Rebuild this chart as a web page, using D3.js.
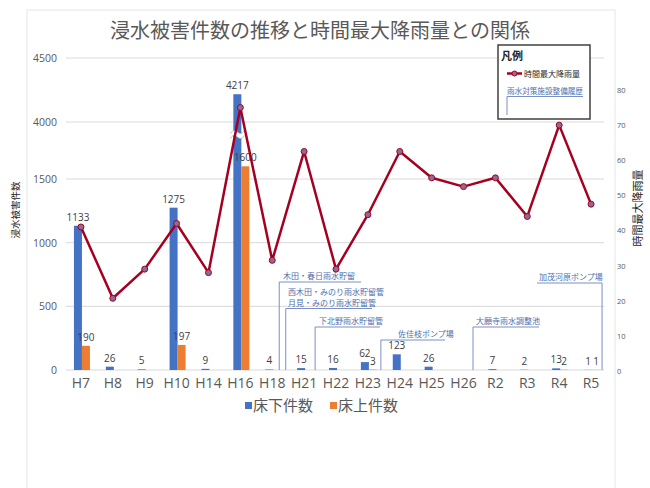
<!DOCTYPE html>
<html><head><meta charset="utf-8">
<script src="https://cdn.jsdelivr.net/npm/d3@7"></script>
<style>body{margin:0;background:#fff;}svg{display:block;font-family:"Noto Sans CJK JP","Noto Sans",sans-serif;}</style>
</head><body>
<svg id="c" width="650" height="488"></svg>
<script>
const categories = ["H7","H8","H9","H10","H14","H16","H18","H21","H22","H23","H24","H25","H26","R2","R3","R4","R5"];
const floorBelow = [1133,26,5,1275,9,4217,4,15,16,62,123,26,0,7,2,13,1];
const floorAbove = [190,0,0,197,0,1600,0,0,0,3,0,0,0,0,0,2,1];
const maxRain = [41,20.7,29,42,28,75,31.5,62.5,29,44.5,62.5,55,52.5,55,44,70,47.5];
const leftTicks = [0,500,1000,1500,4000,4500];
const rightTicks = [0,10,20,30,40,50,60,70,80];
const seriesNames = ["床下件数","床上件数"];
const lineName = "時間最大降雨量";
const facilityHistory = [
  {lines:["木田・春日雨水貯留"], after:"H18"},
  {lines:["西木田・みのり雨水貯留管","月見・みのり雨水貯留管"], after:"H18"},
  {lines:["下北野雨水貯留管"], after:"H21"},
  {lines:["佐佳枝ポンプ場"], after:"H23"},
  {lines:["大願寺雨水調整池"], after:"H26"},
  {lines:["加茂河原ポンプ場"], after:"R5"}
];

const svg = d3.select("#c");
const blue = "#4472C4", orange = "#ED7D31", red = "#A50021", grid = "#D9D9D9", txt = "#595959";
const annText = "#4F6EAD", annLine = "#7B8FC7";

// outer border
svg.append("rect").attr("x",27).attr("y",10).attr("width",588).attr("height",490)
  .attr("fill","none").attr("stroke","#E6E6E6");

const x = d3.scaleBand().domain(categories).range([65,607]);
const cx = d => x(d) + x.bandwidth()/2;
const yL = d3.scaleLinear().domain([0,1600,4000,4500]).range([370,166.3,122,58]);
const yR = d3.scaleLinear().domain([0,80]).range([371,90]);

// gridlines
svg.append("g").selectAll("line").data(leftTicks).join("line")
  .attr("x1",66).attr("x2",604).attr("y1",d=>yL(d)).attr("y2",d=>yL(d))
  .attr("stroke",grid).attr("stroke-width",1);

// left axis
const axL = svg.append("g").attr("transform","translate(60,0)")
  .call(d3.axisLeft(yL).tickValues(leftTicks).tickFormat(d3.format("d")).tickSize(0).tickPadding(3));
axL.select(".domain").remove();
axL.selectAll("text").attr("fill",txt).style("font-size","10.5px").style("font-family","'Open Sans',sans-serif");

// right axis
const axR = svg.append("g").attr("transform","translate(615,0)")
  .call(d3.axisRight(yR).tickValues(rightTicks).tickSize(0).tickPadding(2));
axR.select(".domain").remove();
axR.selectAll("text").attr("fill",txt).style("font-size","7.5px").style("font-family","'Open Sans',sans-serif");

// x axis labels
const axX = svg.append("g").attr("transform","translate(0,370)")
  .call(d3.axisBottom(x).tickSize(0).tickPadding(8));
axX.select(".domain").remove();
axX.selectAll("text").attr("fill",txt).style("font-size","14px").style("font-family","'Open Sans',sans-serif");

// bars
const idx = d3.range(categories.length);
svg.append("g").selectAll("rect").data(idx).join("rect")
  .attr("x",i=>cx(categories[i])-7).attr("width",8)
  .attr("y",i=>yL(floorBelow[i])).attr("height",i=>yL(0)-yL(floorBelow[i]))
  .attr("fill",blue);
svg.append("g").selectAll("rect").data(idx).join("rect")
  .attr("x",i=>cx(categories[i])+1).attr("width",8)
  .attr("y",i=>yL(floorAbove[i])).attr("height",i=>yL(0)-yL(floorAbove[i]))
  .attr("fill",orange);

// axis break mark on the tallest bar
const iMax = d3.maxIndex(floorBelow);
{
  const c = cx(categories[iMax]);
  const yb = yL(3250);
  const wave = (dy) => d3.range(0,14.1,1).map(t=>[c-10+t, yb+dy-2.2*Math.sin(t/14*2*Math.PI)-t*0.2]);
  const top = wave(-2.5), bot = wave(2.5);
  svg.append("path").attr("d", d3.line()(top.concat(bot.slice().reverse())) + "Z")
    .attr("fill","#fff");
  svg.append("path").attr("d", d3.line()(top)).attr("fill","none").attr("stroke","#A6A6A6").attr("stroke-width",0.8);
  svg.append("path").attr("d", d3.line()(bot)).attr("fill","none").attr("stroke","#A6A6A6").attr("stroke-width",0.8);
}

// annotations (facility history)
const annLayout = [
  {dx:7, yTop:282, tx:283, right:361, side:"left"},
  {dx:13.5, yTop:308.5, tx:288, right:372, side:"left"},
  {dx:11, yTop:327, tx:319, right:380, side:"left"},
  {dx:13, yTop:340, tx:398, right:445, side:"left"},
  {dx:9.5, yTop:327, tx:476, right:539, side:"left"},
  {dx:11, yTop:283, tx:539, left:537, side:"right"}
];
const gA = svg.append("g");
facilityHistory.forEach((a,k)=>{
  const L = annLayout[k];
  const vx = cx(a.after) + L.dx;
  const x1 = L.side==="left" ? vx : L.left;
  const x2 = L.side==="left" ? L.right : vx;
  gA.append("line").attr("x1",x1).attr("x2",x2).attr("y1",L.yTop).attr("y2",L.yTop)
    .attr("stroke",annLine).attr("stroke-width",1);
  gA.append("line").attr("x1",vx).attr("x2",vx).attr("y1",L.yTop).attr("y2",370)
    .attr("stroke",annLine).attr("stroke-width",1);
  a.lines.forEach((s,j)=>{
    gA.append("text").attr("x",L.tx).attr("y",L.yTop-3-(a.lines.length-1-j)*11)
      .attr("fill",annText).style("font-size","8px").text(s);
  });
});

// bar value labels
const gl = svg.append("g").style("font-size","10px").style("font-family","'Open Sans',sans-serif").attr("fill","#404040").attr("text-anchor","middle");
idx.filter(i=>floorBelow[i]>0).forEach(i=>{
  gl.append("text").attr("x",cx(categories[i])-3).attr("y",yL(floorBelow[i])-5).text(floorBelow[i]);
});
idx.filter(i=>floorAbove[i]>0).forEach(i=>{
  gl.append("text").attr("x",cx(categories[i])+5).attr("y",yL(floorAbove[i])-5).text(floorAbove[i]);
});

// rain line
const line = d3.line().x(i=>cx(categories[i])).y(i=>yR(maxRain[i]));
svg.append("path").datum(idx).attr("d",line).attr("fill","none")
  .attr("stroke",red).attr("stroke-width",2.5).attr("stroke-linejoin","round");
svg.append("g").selectAll("circle").data(idx).join("circle")
  .attr("cx",i=>cx(categories[i])).attr("cy",i=>yR(maxRain[i])).attr("r",3)
  .attr("fill","#8A6D95").attr("stroke",red).attr("stroke-width",1);

// title
svg.append("text").attr("x",320).attr("y",38).attr("text-anchor","middle")
  .attr("fill",txt).style("font-size","20px").text("浸水被害件数の推移と時間最大降雨量との関係");

// axis titles
svg.append("text").attr("transform","translate(19,210) rotate(-90)").attr("text-anchor","middle")
  .attr("fill","#262626").style("font-size","9.5px").text("浸水被害件数");
svg.append("text").attr("transform","translate(642,208) rotate(-90)").attr("text-anchor","middle")
  .attr("fill","#262626").style("font-size","11px").text(lineName);

// bottom legend
const lg = svg.append("g");
[[245,blue,seriesNames[0]],[330,orange,seriesNames[1]]].forEach(([lx,col,name])=>{
  lg.append("rect").attr("x",lx).attr("y",402).attr("width",7).attr("height",7).attr("fill",col);
  lg.append("text").attr("x",lx+8).attr("y",411).attr("fill",txt).style("font-size","15px").text(name);
});

// top-right legend box
const bx = svg.append("g");
bx.append("rect").attr("x",498).attr("y",45).attr("width",92).attr("height",74)
  .attr("fill","#fff").attr("stroke","#404040").attr("stroke-width",1.5);
bx.append("text").attr("x",501).attr("y",60).attr("fill","#262626").style("font-size","11px").style("font-weight","bold").text("凡例");
bx.append("line").attr("x1",507).attr("x2",522).attr("y1",73.5).attr("y2",73.5).attr("stroke",red).attr("stroke-width",2.5);
bx.append("circle").attr("cx",514.5).attr("cy",73.5).attr("r",2.5).attr("fill","#8A6D95").attr("stroke",red);
bx.append("text").attr("x",524).attr("y",76.5).attr("fill","#262626").style("font-size","8px").text(lineName);
bx.append("text").attr("x",507).attr("y",94).attr("fill",annText).style("font-size","7.6px").text("雨水対策施設整備履歴");
bx.append("line").attr("x1",507).attr("x2",583).attr("y1",96.5).attr("y2",96.5).attr("stroke",annLine);
bx.append("line").attr("x1",507).attr("x2",507).attr("y1",96.5).attr("y2",115).attr("stroke",annLine);
</script>
</body></html>
